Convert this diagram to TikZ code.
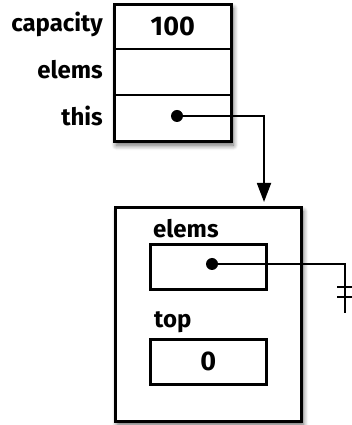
\documentclass[tikz,border=0pt]{standalone}
\usepackage{fontspec}
\setmainfont{Fira Sans}
\usetikzlibrary{arrows.meta,shadows.blur}
\begin{document}
\begin{tikzpicture}[x=1pt,y=1pt,
  lbl/.style={font=\fontsize{24}{26}\selectfont\bfseries, inner sep=0pt},
  val/.style={font=\fontsize{27}{29}\selectfont\bfseries, inner sep=0pt},
  frame/.style={draw, line width=2.6pt, fill=white,
    blur shadow={shadow xshift=2pt, shadow yshift=-4pt, shadow blur radius=5pt,
      shadow blur steps=8, shadow opacity=60}},
  cell/.style={draw, line width=2.6pt},
  slot/.style={inner sep=0pt, minimum width=117pt, minimum height=45.67pt},
  link/.style={line width=1.8pt},
  dot/.style={circle, fill, inner sep=0pt, minimum size=12pt}]
\useasboundingbox (0,0) rectangle (352,425);

% the object with three fields
\node[frame, minimum width=117pt, minimum height=137pt, anchor=north west] (obj) at (113,422) {};
\node[slot, anchor=north] (cap) at (obj.north) {};
\node[slot, anchor=north] (els) at (cap.south) {};
\node[slot, anchor=north] (thi) at (els.south) {};
\draw[line width=2.6pt] (cap.south west) -- (cap.south east);
\draw[line width=2.6pt] (els.south west) -- (els.south east);
\node[val] at (cap.center) {100};
\node[lbl, anchor=east] (capl) at (103,401) {capacity};
\node[lbl, anchor=east] (elsl) at (103,355) {elems};
\node[lbl, anchor=east] (thil) at (103,309) {this};

% the stack it points to
\node[frame, minimum width=186pt, minimum height=214pt, anchor=north west] (stk) at (114,219) {};
\node[cell, minimum width=116pt, minimum height=45pt, anchor=north west] (selems) at (149,182) {};
\node[cell, minimum width=116pt, minimum height=45pt, anchor=north west] (stop) at (149,87) {};
\node[lbl, anchor=south west] (selemsl) at (153,187) {elems};
\node[lbl, anchor=south west] (stopl) at (154,92) {top};
\node[val] at (stop.center) {0};

% pointers
\node[dot] (p1) at (177,309) {};
\coordinate (c1) at (264,309);
\coordinate (t1) at (264,223);
\draw[link, -{Triangle[length=19pt,width=14pt]}] (p1.center) -- (c1) -- (t1);

\node[dot] (p2) at (212,161) {};
\coordinate (c2) at (345,161);
\coordinate (g) at (345,112);
\draw[link] (p2.center) -- (c2) -- (g);
% null marker
\coordinate (b1l) at (337,138); \coordinate (b1r) at (356,138);
\coordinate (b2l) at (337,128); \coordinate (b2r) at (356,128);
\draw[link] (b1l) -- (b1r);
\draw[link] (b2l) -- (b2r);
\end{tikzpicture}
\end{document}
